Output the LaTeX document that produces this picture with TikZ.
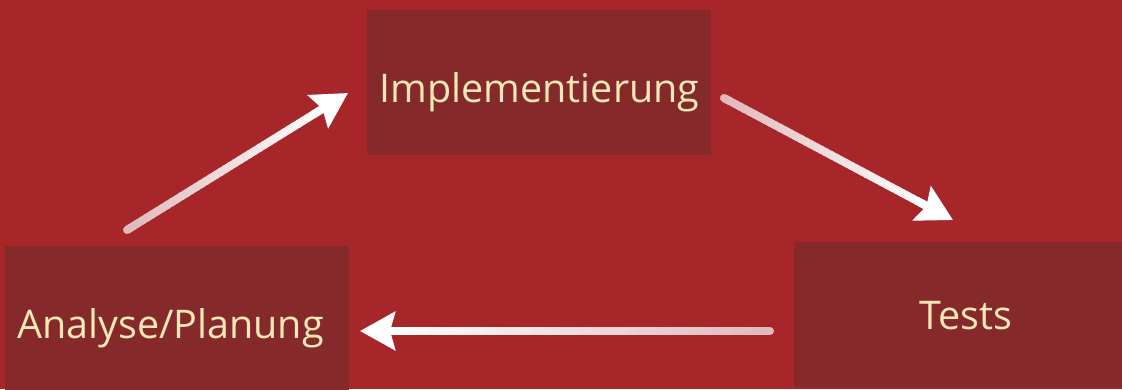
\documentclass[tikz,border=0pt]{standalone}
\usepackage{fontspec}
\setmainfont{Open Sans}
\usetikzlibrary{arrows.meta,calc}
\definecolor{bg}{RGB}{166,38,41}
\definecolor{boxc}{RGB}{133,41,43}
\definecolor{txt}{RGB}{246,231,182}
\definecolor{tailc}{RGB}{226,186,189}
\tikzset{
  stagebox/.style={fill=boxc, draw=none, minimum width=344pt, minimum height=145pt, inner sep=0pt},
  stagetext/.style={text=txt, font=\fontsize{39.5}{46}\selectfont, anchor=base, inner sep=0pt},
  headtip/.style={-{Stealth[length=35pt,width=38pt,inset=5pt]}, white, line width=8pt},
  shaftseg/.style={line width=8pt},
}
\newcommand\gradarrow[2]{%
  \coordinate (ge) at ($(#2)!30pt!(#1)$);
  \draw[shaftseg, tailc, line cap=round] (#1) -- ($(#1)!0.02!(ge)$);
  \foreach \i [evaluate=\i as \m using {int(\i*100/40)}, evaluate=\i as \f using {\i/40}, evaluate=\i as \g using {(\i+1.3)/40}] in {0,...,39}
    \draw[shaftseg, color=white!\m!tailc] ($(#1)!\f!(ge)$) -- ($(#1)!\g!(ge)$);
  \draw[headtip] ($(#2)!40pt!(#1)$) -- (#2);
}
\begin{document}
\begin{tikzpicture}[x=1pt,y=-1pt]
\fill[bg] (0,0) rectangle (1122,389);
\useasboundingbox (0,0) rectangle (1122,389);

\node[stagebox] (impl) at (539,82.5) {};
\node[stagebox] (tests) at (966,314.5) {};
\node[stagebox] (anal) at (177,318.5) {};

\node[stagetext] (implt) at (539.5,102) {Implementierung};
\node[stagetext] (testst) at (966,329) {Tests};
\node[stagetext] (analt) at (170.5,338) {Analyse/Planung};

\coordinate (a1s) at (127,230);
\coordinate (a1e) at (348,93);
\coordinate (a2s) at (724,98);
\coordinate (a2e) at (953,220);
\coordinate (a3s) at (770,331);
\coordinate (a3e) at (360,331);

\gradarrow{a1s}{a1e}
\gradarrow{a2s}{a2e}
\gradarrow{a3s}{a3e}
\end{tikzpicture}
\end{document}
